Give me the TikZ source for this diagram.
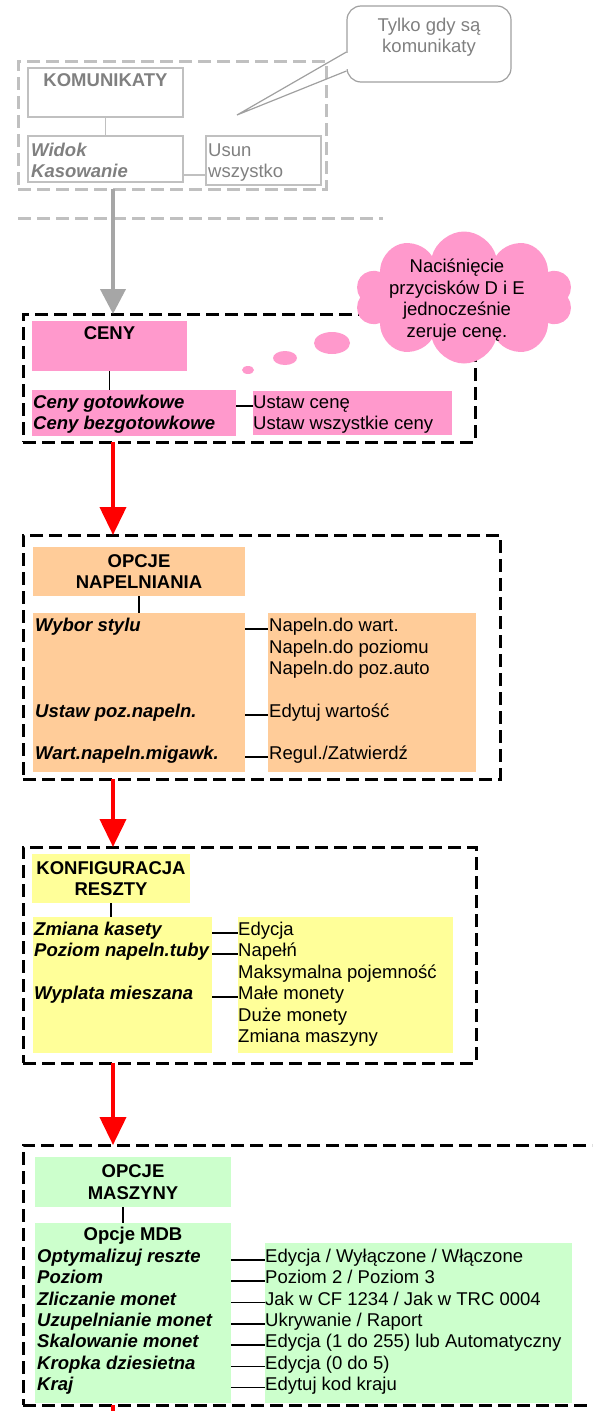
\documentclass[tikz,border=0pt]{standalone}
\usepackage{fontspec}
\setmainfont{Liberation Sans}
\usetikzlibrary{arrows.meta,shapes.geometric,shapes.symbols}

\definecolor{cenyPink}{HTML}{FF99CC}
\definecolor{napPeach}{HTML}{FFCC99}
\definecolor{resztaYellow}{HTML}{FFFF99}
\definecolor{maszGreen}{HTML}{CCFFCC}
\definecolor{boxGray}{HTML}{C0C0C0}
\definecolor{textGray}{HTML}{808080}
\definecolor{calloutGray}{HTML}{A0A0A0}
\definecolor{arrowGray}{HTML}{A6A6A6}

\newcommand{\diagfont}{\fontsize{18.5pt}{21.5pt}\selectfont}

\begin{document}
\begin{tikzpicture}[x=1pt,y=-1pt,
    panel/.style={anchor=north west,inner sep=0pt,outer sep=0pt},
    frame/.style={panel,draw,line width=3pt,dash pattern=on 13pt off 6pt},
    graybox/.style={panel,draw=boxGray,line width=1.2pt},
    head/.style={font=\diagfont\bfseries,align=center,inner sep=0pt},
    opt/.style={anchor=base west,inner sep=0pt,font=\diagfont\bfseries\itshape},
    val/.style={anchor=base west,inner sep=0pt,font=\diagfont},
    link/.style={line width=1.5pt},
    flow/.style={red,line width=4pt,-{Triangle[length=28pt,width=26pt]}}]

    \clip (0,0) rectangle (592,1411);
    \coordinate (spine) at (113,0);
    \coordinate (flowEnd) at (113,1411);

    \node[frame,draw=boxGray,minimum width=308pt,minimum height=128pt] (komFrame) at (18,61) {};
    \node[graybox,minimum width=155pt,minimum height=49pt] (kom) at (28,68) {};
    \node[head,text=textGray,anchor=north] (komText) at ([yshift=-5pt]kom.north) {KOMUNIKATY};
    \node[graybox,minimum width=155pt,minimum height=46pt] (widok) at (28,136) {};
    \node[opt,text=textGray] (widokA) at (31,156.5) {Widok};
    \node[opt,text=textGray] (widokB) at (31,177.5) {Kasowanie};
    \node[graybox,minimum width=115pt,minimum height=49pt] (usun) at (206,136) {};
    \node[val,text=textGray] (usunA) at (208,156.5) {Usun};
    \node[val,text=textGray] (usunB) at (208,177.5) {wszystko};
    \draw[boxGray,link] (kom.south) -- (widok.north);
    \draw[boxGray,link] (widok.east |- widokB.mid) -- (usun.west |- widokB.mid);
    \draw[boxGray,line width=3pt,dash pattern=on 13pt off 6pt] (18,218) -- (383,218);

    \node[draw=calloutGray,line width=1.2pt,rounded corners=14pt,minimum width=164pt,minimum height=76pt,inner sep=0pt] (callout) at (429,44) {};
    \coordinate (calloutTip) at (237,115);
    \draw[white,line width=2.5pt] ([yshift=-9pt]callout.west) -- ([yshift=-25pt]callout.west);
    \draw[calloutGray,line width=1.2pt] ([yshift=-8pt]callout.west) -- (calloutTip) -- ([yshift=-27pt]callout.west);
    \node[font=\diagfont,text=textGray,align=center,inner sep=0pt] (calloutText) at (429,37) {Tylko gdy są\\komunikaty};

    \node[frame,minimum width=452pt,minimum height=128pt] (cenyFrame) at (23,314) {};
    \node[panel,fill=cenyPink,minimum width=155pt,minimum height=50pt] (ceny) at (32,321) {};
    \node[head,anchor=north] (cenyText) at ([yshift=-5.4pt]ceny.north) {CENY};
    \node[panel,fill=cenyPink,minimum width=204pt,minimum height=46pt] (cenyL) at (32,390) {};
    \node[panel,fill=cenyPink,minimum width=199pt,minimum height=44pt] (cenyR) at (253,391) {};
    \node[opt] (cenyGot) at (33,408.5) {Ceny gotowkowe};
    \node[opt] (cenyBez) at (33,429.5) {Ceny bezgotowkowe};
    \node[val] (ustawCene) at (253,408.5) {Ustaw cenę};
    \node[val] (ustawWsz) at (253,429.5) {Ustaw wszystkie ceny};
    \draw[link] (ceny.south) -- (ceny.south |- cenyL.north);
    \draw[link] (cenyL.east |- cenyGot.mid) -- (ustawCene.mid west);

    \node[cloud,cloud puffs=10,cloud ignores aspect,fill=cenyPink,minimum width=218pt,minimum height=132pt,inner sep=0pt] (tipCloud) at (464,297.5) {};
    \node[font=\diagfont,align=center,inner sep=0pt] (tipText) at (457,300) {Naciśnięcie\\przycisków D i E\\jednocześnie\\zeruje cenę.};
    \node[ellipse,fill=cenyPink,minimum width=36pt,minimum height=22pt,inner sep=0pt] (bubbleA) at (332,343) {};
    \node[ellipse,fill=cenyPink,minimum width=24pt,minimum height=14pt,inner sep=0pt] (bubbleB) at (285,358) {};
    \node[ellipse,fill=cenyPink,minimum width=12pt,minimum height=8pt,inner sep=0pt] (bubbleC) at (248,370) {};

    \node[frame,minimum width=477pt,minimum height=244pt] (napFrame) at (23,535) {};
    \node[panel,head,fill=napPeach,minimum width=212pt,minimum height=49pt] (nap) at (33,547) {OPCJE\\NAPELNIANIA};
    \node[panel,fill=napPeach,minimum width=212pt,minimum height=159pt] (napL) at (33,613) {};
    \node[panel,fill=napPeach,minimum width=208pt,minimum height=159pt] (napR) at (268,613) {};
    \node[opt] (wybor) at (35,631.5) {Wybor stylu};
    \node[opt] (ustawPoz) at (35,717.5) {Ustaw poz.napeln.};
    \node[opt] (wartNap) at (35,759.5) {Wart.napeln.migawk.};
    \node[val] (napWart) at (269,631.5) {Napeln.do wart.};
    \node[val] (napPoz) at (269,653) {Napeln.do poziomu};
    \node[val] (napAuto) at (269,674.5) {Napeln.do poz.auto};
    \node[val] (edytujWart) at (269,717.5) {Edytuj wartość};
    \node[val] (regul) at (269,759.5) {Regul./Zatwierdź};
    \draw[link] (nap.south) -- (nap.south |- napL.north);
    \draw[link] (napL.east |- wybor.mid) -- (napR.west |- napWart.mid);
    \draw[link] (napL.east |- ustawPoz.mid) -- (napR.west |- edytujWart.mid);
    \draw[link] (napL.east |- wartNap.mid) -- (napR.west |- regul.mid);

    \node[frame,minimum width=453pt,minimum height=216pt] (konfFrame) at (23,847) {};
    \node[panel,head,fill=resztaYellow,minimum width=158pt,minimum height=49pt] (konf) at (32,854) {KONFIGURACJA\\RESZTY};
    \node[panel,fill=resztaYellow,minimum width=179pt,minimum height=136pt] (konfL) at (33,917) {};
    \node[panel,fill=resztaYellow,minimum width=215pt,minimum height=136pt] (konfR) at (238,917) {};
    \node[opt] (zmianaKas) at (34,935.5) {Zmiana kasety};
    \node[opt] (poziomTuby) at (34,956.5) {Poziom napeln.tuby};
    \node[opt] (wyplata) at (34,999.5) {Wyplata mieszana};
    \node[val] (edycjaK) at (238,935.5) {Edycja};
    \node[val] (napelnij) at (238,956.5) {Napełń};
    \node[val] (maksPoj) at (238,978) {Maksymalna pojemność};
    \node[val] (maleMon) at (238,999.5) {Małe monety};
    \node[val] (duzeMon) at (238,1021) {Duże monety};
    \node[val] (zmianaMasz) at (238,1042.5) {Zmiana maszyny};
    \draw[link] (konf.south) -- (konf.south |- konfL.north);
    \draw[link] (konfL.east |- zmianaKas.mid) -- (edycjaK.mid west);
    \draw[link] (konfL.east |- poziomTuby.mid) -- (napelnij.mid west);
    \draw[link] (konfL.east |- wyplata.mid) -- (maleMon.mid west);

    \node[frame,minimum width=617pt,minimum height=260pt] (maszFrame) at (23,1145) {};
    \node[panel,head,fill=maszGreen,minimum width=196pt,minimum height=50pt] (masz) at (35,1157) {OPCJE\\MASZYNY};
    \node[panel,fill=maszGreen,minimum width=196pt,minimum height=180pt] (maszL) at (35,1223) {};
    \node[panel,fill=maszGreen,minimum width=307pt,minimum height=160pt] (maszR) at (265,1243) {};
    \node[head,anchor=base] (mdb) at (133,1240.5) {Opcje MDB};
    \node[opt] (optym) at (37,1262.5) {Optymalizuj reszte};
    \node[opt] (poziom) at (37,1283.8) {Poziom};
    \node[opt] (zliczanie) at (37,1305.1) {Zliczanie monet};
    \node[opt] (uzupel) at (37,1326.4) {Uzupelnianie monet};
    \node[opt] (skalow) at (37,1347.7) {Skalowanie monet};
    \node[opt] (kropka) at (37,1369) {Kropka dziesietna};
    \node[opt] (kraj) at (37,1390.3) {Kraj};
    \node[val] (optymV) at (265,1262.5) {Edycja / Wyłączone / Włączone};
    \node[val] (poziomV) at (265,1283.8) {Poziom 2 / Poziom 3};
    \node[val] (zliczanieV) at (265,1305.1) {Jak w CF 1234 / Jak w TRC 0004};
    \node[val] (uzupelV) at (265,1326.4) {Ukrywanie / Raport};
    \node[val] (skalowV) at (265,1347.7) {Edycja (1 do 255) lub Automatyczny};
    \node[val] (kropkaV) at (265,1369) {Edycja (0 do 5)};
    \node[val] (krajV) at (265,1390.3) {Edytuj kod kraju};
    \draw[link] ([xshift=-10pt]masz.south) -- ([xshift=-10pt]masz.south |- maszL.north);
    \draw[link] (maszL.east |- optym.mid) -- (optymV.mid west);
    \draw[link] (maszL.east |- poziom.mid) -- (poziomV.mid west);
    \draw[link] (maszL.east |- zliczanie.mid) -- (zliczanieV.mid west);
    \draw[link] (maszL.east |- uzupel.mid) -- (uzupelV.mid west);
    \draw[link] (maszL.east |- skalow.mid) -- (skalowV.mid west);
    \draw[link] (maszL.east |- kropka.mid) -- (kropkaV.mid west);
    \draw[link] (maszL.east |- kraj.mid) -- (krajV.mid west);

    \draw[arrowGray,line width=4pt,-{Triangle[length=25pt,width=25pt]}] (komFrame.south -| spine) -- (cenyFrame.north -| spine);
    \draw[flow] (cenyFrame.south -| spine) -- (napFrame.north -| spine);
    \draw[flow] (napFrame.south -| spine) -- (konfFrame.north -| spine);
    \draw[flow] (konfFrame.south -| spine) -- (maszFrame.north -| spine);
    \draw[red,line width=4pt] (maszFrame.south -| spine) -- (flowEnd);
\end{tikzpicture}
\end{document}
